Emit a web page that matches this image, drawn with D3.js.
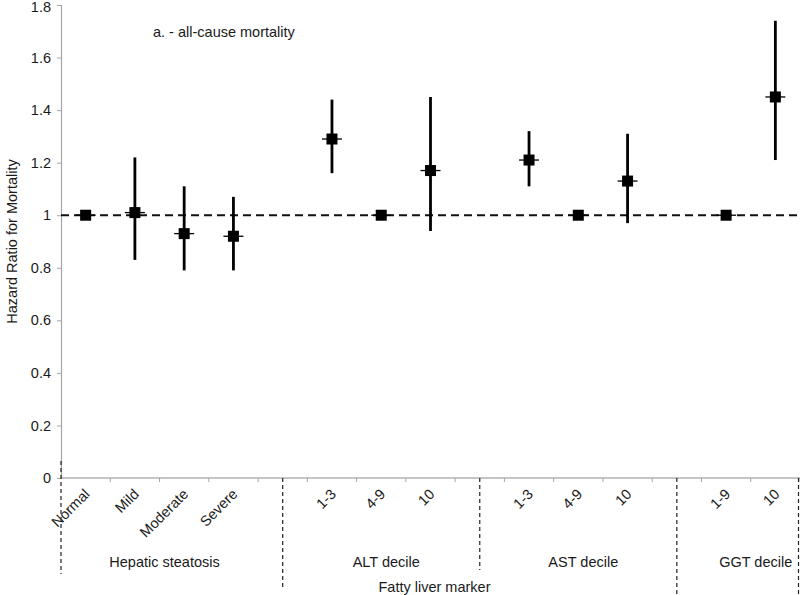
<!DOCTYPE html>
<html>
<head>
<meta charset="utf-8">
<script src="https://cdn.jsdelivr.net/npm/d3@7"></script>
<style>
  html, body { margin: 0; padding: 0; background: #fff; }
  svg { display: block; font-family: "Liberation Sans", Arial, sans-serif; }
</style>
</head>
<body>
<svg id="chart" width="800" height="595"></svg>
<script>
// ---- data ----
const title = "a. - all-cause mortality";
const yTitle = "Hazard Ratio for Mortality";
const xTitle = "Fatty liver marker";
const categories = ["Normal", "Mild", "Moderate", "Severe", "", "1-3", "4-9", "10", "", "1-3", "4-9", "10", "", "1-9", "10"];
const groupNames = ["Hepatic steatosis", "ALT decile", "AST decile", "GGT decile"];
const groupStart = [0, 5, 9, 13];
const groupEnd = [3, 7, 11, 14];
const hazard = [1.00, 1.01, 0.93, 0.92, null, 1.29, 1.00, 1.17, null, 1.21, 1.00, 1.13, null, 1.00, 1.45];
const lower = [null, 0.83, 0.79, 0.79, null, 1.16, null, 0.94, null, 1.11, null, 0.97, null, null, 1.21];
const upper = [null, 1.22, 1.11, 1.07, null, 1.44, null, 1.45, null, 1.32, null, 1.31, null, null, 1.74];
const yTicks = [0, 0.2, 0.4, 0.6, 0.8, 1, 1.2, 1.4, 1.6, 1.8];
const referenceValue = 1;

// ---- layout ----
const svg = d3.select("#chart");
const pLeft = 61, pRight = 800, pTop = 5, pBottom = 478;
const idx = categories.map((d, i) => i);
const x = d3.scaleBand().domain(idx).range([pLeft, pRight]).padding(0);
const y = d3.scaleLinear().domain([0, 1.8]).range([pBottom, pTop]);
const cx = i => x(i) + x.bandwidth() / 2;
const textColor = "#1a1a1a";

// y axis
const yAxis = d3.axisLeft(y).tickValues(yTicks).tickSize(4).tickPadding(6)
  .tickFormat(d => String(+d.toFixed(1)));
const gy = svg.append("g").attr("transform", `translate(${pLeft},0)`).call(yAxis);
gy.select(".domain").attr("stroke", "#a6a6a6").attr("stroke-width", 1.2);
gy.selectAll(".tick line").attr("stroke", "#a6a6a6");
gy.selectAll(".tick text").attr("fill", textColor).style("font-size", "14.5px")
  .style("font-family", "Liberation Sans, Arial, sans-serif")
  .attr("dy", d => d === 1.8 ? "0.45em" : "0.32em");

// x axis (ticks at category boundaries)
const boundaries = d3.range(categories.length + 1).map(i => pLeft + i * x.bandwidth());
svg.append("line").attr("x1", pLeft).attr("x2", pRight).attr("y1", pBottom).attr("y2", pBottom)
  .attr("stroke", "#8c8c8c").attr("stroke-width", 1.2);
svg.append("g").selectAll("line").data(boundaries.slice(1)).join("line")
  .attr("x1", d => d).attr("x2", d => d).attr("y1", pBottom).attr("y2", pBottom + 4)
  .attr("stroke", "#a6a6a6").attr("stroke-width", 1);

// category labels rotated
svg.append("g").selectAll("text").data(idx.filter(i => categories[i] !== "")).join("text")
  .attr("transform", i => `translate(${cx(i) + 5},${pBottom + 17}) rotate(-45)`)
  .attr("text-anchor", "end")
  .attr("fill", textColor)
  .style("font-size", "14.5px")
  .text(i => categories[i]);

// group dividers (dashed)
const dividers = [
  { x: pLeft, y1: 461, y2: 574 },
  { x: cx(4), y1: pBottom, y2: 588 },
  { x: cx(8), y1: pBottom, y2: 570 },
  { x: cx(12), y1: pBottom, y2: 594 },
  { x: pRight - 1.5, y1: pBottom, y2: 594 }
];
svg.append("g").selectAll("line").data(dividers).join("line")
  .attr("x1", d => d.x).attr("x2", d => d.x).attr("y1", d => d.y1).attr("y2", d => d.y2)
  .attr("stroke", "#222").attr("stroke-width", 1.2).attr("stroke-dasharray", "4,3");

// group labels
svg.append("g").selectAll("text").data(groupNames).join("text")
  .attr("x", (d, k) => (x(groupStart[k]) + x(groupEnd[k]) + x.bandwidth()) / 2 + 5)
  .attr("y", 567)
  .attr("text-anchor", "middle")
  .attr("fill", textColor)
  .style("font-size", "14.5px")
  .text(d => d);

// axis titles
svg.append("text").attr("x", (pLeft + pRight) / 2 + 4).attr("y", 592)
  .attr("text-anchor", "middle").attr("fill", textColor).style("font-size", "14.5px").text(xTitle);
svg.append("text").attr("transform", `translate(17,${(pTop + pBottom) / 2}) rotate(-90)`)
  .attr("text-anchor", "middle").attr("fill", textColor).style("font-size", "14.5px").text(yTitle);

// chart title
svg.append("text").attr("x", 153).attr("y", 37).attr("fill", textColor)
  .style("font-size", "14.5px").text(title);

// reference dashed line
svg.append("line").attr("x1", pLeft).attr("x2", pRight)
  .attr("y1", y(referenceValue)).attr("y2", y(referenceValue))
  .attr("stroke", "#111").attr("stroke-width", 2).attr("stroke-dasharray", "8,5");

// points
const pts = idx.filter(i => hazard[i] !== null);
const g = svg.append("g");
g.selectAll("line.ci").data(pts.filter(i => lower[i] !== null)).join("line").attr("class", "ci")
  .attr("x1", cx).attr("x2", cx).attr("y1", i => y(lower[i])).attr("y2", i => y(upper[i]))
  .attr("stroke", "#000").attr("stroke-width", 2.8);
g.selectAll("line.hl").data(pts).join("line").attr("class", "hl")
  .attr("x1", i => cx(i) - 10).attr("x2", i => cx(i) + 10)
  .attr("y1", i => y(hazard[i])).attr("y2", i => y(hazard[i]))
  .attr("stroke", "#000").attr("stroke-width", 1.3);
g.selectAll("rect").data(pts).join("rect")
  .attr("x", i => cx(i) - 5.5).attr("y", i => y(hazard[i]) - 5.5)
  .attr("width", 11).attr("height", 11).attr("fill", "#000");
</script>
</body>
</html>
